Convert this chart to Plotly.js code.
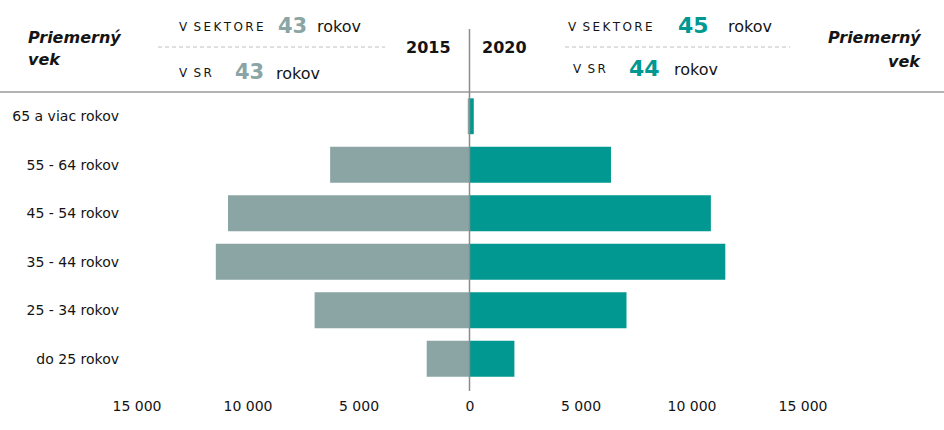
<!DOCTYPE html>
<html>
<head>
<meta charset="utf-8">
<script src="https://cdn.plot.ly/plotly-3.0.1.min.js"></script>
<style>html,body{margin:0;padding:0;background:#fff;}#chart{width:944px;height:430px;}</style>
</head>
<body>
<div id="chart"></div>
<script>
// ---- data ----
const categories = ['do 25 rokov', '25 - 34 rokov', '35 - 44 rokov', '45 - 54 rokov', '55 - 64 rokov', '65 a viac rokov'];
const values2015 = [1950, 7000, 11450, 10900, 6300, 100];
const values2020 = [2000, 7050, 11500, 10850, 6350, 170];
const tickValues = [-15000, -10000, -5000, 0, 5000, 10000, 15000];
const tickLabels = ['15 000', '10 000', '5 000', '0', '5 000', '10 000', '15 000'];
const years = ['2015', '2020'];
const avgSector = [43, 45];
const avgSR = [43, 44];

// ---- geometry helpers (layout only) ----
const W = 944, H = 430;
const ML = 137, MR = 141, MT = 92, MB = 47;
const PW = W - ML - MR, PH = H - MT - MB;
const px = x => (x - ML) / PW;
const py = y => (H - MB - y) / PH;

const GREY = '#8aa5a4';
const TEAL = '#009890';
const TXT = '#141414';
const FONT = 'DejaVu Sans, Verdana, sans-serif';

const traces = [
  {
    type: 'bar', orientation: 'h', name: years[0],
    y: categories, x: values2015.map(v => -v),
    marker: {color: GREY}, hoverinfo: 'skip'
  },
  {
    type: 'bar', orientation: 'h', name: years[1],
    y: categories, x: values2020,
    marker: {color: TEAL}, hoverinfo: 'skip'
  }
];

const sp = '\u2009';
const spaced = s => s.split('').join(sp);

function ann(text, x, y, opts) {
  return Object.assign({
    text: text, xref: 'paper', yref: 'paper', x: px(x), y: py(y),
    xanchor: 'left', yanchor: 'middle', showarrow: false,
    font: {family: FONT, size: 16, color: TXT}, borderpad: 0
  }, opts || {});
}

const annotations = [
  ann('<b><i>Priemerný</i></b>', 27, 37),
  ann('<b><i>vek</i></b>', 27, 60),
  ann('<b><i>Priemerný</i></b>', 922, 37, {xanchor: 'right'}),
  ann('<b><i>vek</i></b>', 922, 62, {xanchor: 'right'}),
  ann('<b>' + years[0] + '</b>', 452, 47, {xanchor: 'right'}),
  ann('<b>' + years[1] + '</b>', 481, 47),
  // left block (2015)
  ann('V' + sp + ' ' + spaced('SEKTORE'), 178, 27, {font: {family: FONT, size: 12, color: TXT}}),
  ann('<b>' + avgSector[0] + '</b>', 277, 26, {font: {family: FONT, size: 21, color: GREY}}),
  ann('rokov', 316, 27),
  ann('V' + sp + ' ' + spaced('SR'), 178, 73, {font: {family: FONT, size: 12, color: TXT}}),
  ann('<b>' + avgSR[0] + '</b>', 234, 72, {font: {family: FONT, size: 21, color: GREY}}),
  ann('rokov', 275, 73),
  // right block (2020)
  ann('V' + sp + ' ' + spaced('SEKTORE'), 567, 27, {font: {family: FONT, size: 12, color: TXT}}),
  ann('<b>' + avgSector[1] + '</b>', 677, 26, {font: {family: FONT, size: 22, color: TEAL}}),
  ann('rokov', 727, 27),
  ann('V' + sp + ' ' + spaced('SR'), 572, 69, {font: {family: FONT, size: 12, color: TXT}}),
  ann('<b>' + avgSR[1] + '</b>', 628, 68, {font: {family: FONT, size: 22, color: TEAL}}),
  ann('rokov', 673, 69)
];

const shapes = [
  // top separator line
  {type: 'line', xref: 'paper', yref: 'paper', x0: px(0), x1: px(W), y0: py(92), y1: py(92),
   line: {color: '#9a9a9a', width: 1.5}},
  // vertical centre line
  {type: 'line', xref: 'paper', yref: 'paper', x0: px(469.5), x1: px(469.5), y0: py(29), y1: py(391),
   line: {color: '#8c8c8c', width: 1.5}},
  // dashed separators
  {type: 'line', xref: 'paper', yref: 'paper', x0: px(158), x1: px(385), y0: py(47), y1: py(47),
   line: {color: '#c0c0c0', width: 1, dash: '4px,3px'}},
  {type: 'line', xref: 'paper', yref: 'paper', x0: px(565), x1: px(790), y0: py(47), y1: py(47),
   line: {color: '#c0c0c0', width: 1, dash: '4px,3px'}}
];

const layout = {
  width: W, height: H,
  margin: {l: ML, r: MR, t: MT, b: MB, pad: 0},
  paper_bgcolor: '#fff', plot_bgcolor: '#fff',
  barmode: 'overlay', bargap: 0.26, showlegend: false,
  font: {family: FONT, size: 14, color: TXT},
  xaxis: {
    range: [-15000, 15000], tickmode: 'array', tickvals: tickValues, ticktext: tickLabels,
    showgrid: false, zeroline: false, showline: false, ticks: '', fixedrange: true,
    tickfont: {family: FONT, size: 14, color: TXT}, ticklabelstandoff: 13
  },
  yaxis: {
    type: 'category', categoryorder: 'array', categoryarray: categories,
    range: [-0.5, 5.5], showgrid: false, zeroline: false, showline: false, ticks: '',
    fixedrange: true, tickfont: {family: FONT, size: 14, color: TXT}, ticklabelstandoff: 17
  },
  shapes: shapes,
  annotations: annotations
};

Plotly.newPlot('chart', traces, layout, {displayModeBar: false, staticPlot: true});
</script>
</body>
</html>
